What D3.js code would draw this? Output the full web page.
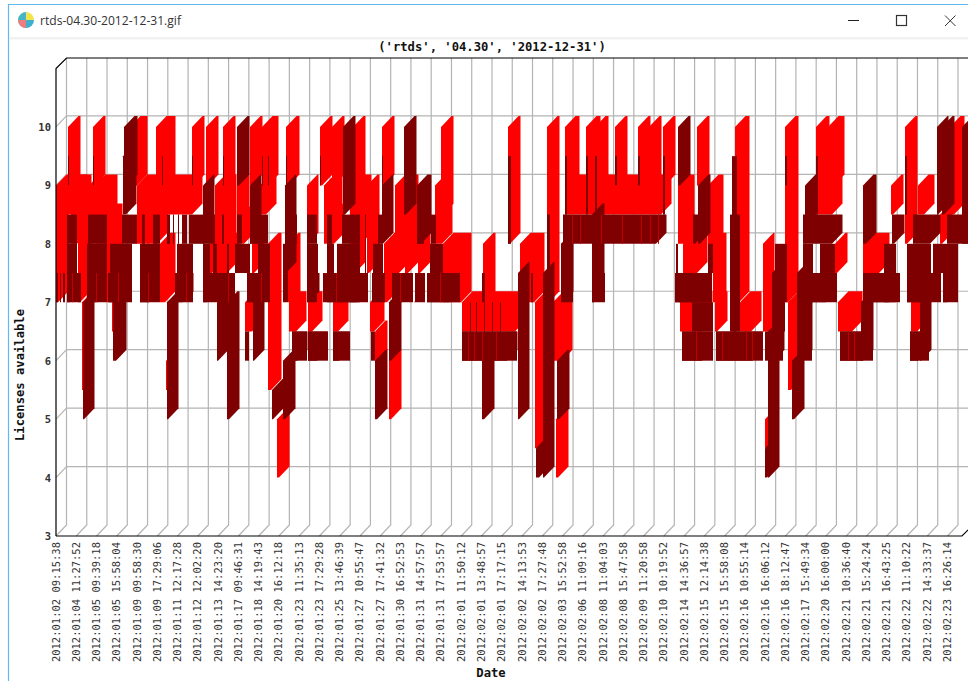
<!DOCTYPE html>
<html><head><meta charset="utf-8">
<script src="https://cdn.jsdelivr.net/npm/d3@7"></script>
<style>html,body{margin:0;padding:0;background:#fff;overflow:hidden}svg{display:block}</style>
</head><body><svg id="c" width="968" height="681"></svg>
<script>
const windowTitle = "rtds-04.30-2012-12-31.gif";
const chartTitle = "('rtds', '04.30', '2012-12-31')";
const xTitle = "Date";
const yTitle = "Licenses available";
const yTicks = [3,4,5,6,7,8,9,10];
const tickLabels = ["2012:01:02 09:15:38","2012:01:04 11:27:52","2012:01:05 09:39:18","2012:01:05 15:58:04","2012:01:09 09:58:30","2012:01:09 17:29:06","2012:01:11 12:17:28","2012:01:12 12:02:20","2012:01:13 14:23:20","2012:01:17 09:46:31","2012:01:18 14:19:43","2012:01:20 16:12:18","2012:01:23 11:35:13","2012:01:23 17:29:28","2012:01:25 13:46:39","2012:01:27 10:55:47","2012:01:27 17:41:32","2012:01:30 16:52:53","2012:01:31 14:57:57","2012:01:31 17:53:57","2012:02:01 11:50:12","2012:02:01 13:48:57","2012:02:01 17:17:15","2012:02:02 14:13:53","2012:02:02 17:27:48","2012:02:03 15:52:58","2012:02:06 11:09:16","2012:02:08 11:04:03","2012:02:08 15:47:58","2012:02:09 11:20:58","2012:02:10 10:19:52","2012:02:14 14:36:57","2012:02:15 12:14:38","2012:02:15 15:58:08","2012:02:16 10:55:14","2012:02:16 16:06:12","2012:02:16 18:12:47","2012:02:17 15:49:34","2012:02:20 16:00:00","2012:02:21 10:36:40","2012:02:21 15:24:24","2012:02:21 16:43:25","2012:02:22 11:10:22","2012:02:22 14:33:37","2012:02:23 16:26:14"];

// all spans: [first sample, last sample, high value, low value]
// bright bars, drawn first
const redBars = [
 [12,13,10,9],[37,38,10,9],[74,80,10,9],[100,108,10,9],[136,137,10,9],[150,151,10,9],[167,168,10,9],[194,195,10,9],[206,211,10,9],[230,232,10,9],[264,265,10,9],[276,277,10,9],[297,298,10,9],
 [326,327,10,9],[385,386,10,8.5],[452,453,10,8],[491,492,10,7],[509,512,10,9],[530,533,10,9],[539,541,10,9],[559,560,10,9],[582,583,10,9],[593,594,10,9],[607,608,10,9],[641,642,10,9],[679,682,10,7],[729,731,10,7],[760,762,10,9],[772,777,10,9],[849,850,10,8],[894,897,10,8.5],
 [0,1,9,7],[15,20,9,8],[33,36,9,8],[39,50,9,8],[12,24,9,8.5],[81,135,9,8.5],[159,169,9,8],[181,182,9,8],[204,209,9,8.5],[251,251,9,8],[268,275,9,8],[299,304,9,8],
 [294,298,9,7.5],[311,312,9,7.5],[339,342,9,7.5],[349,351,9,7.5],[379,385,9,8],[509,604,9,8.5],[622,627,9,8],[652,656,9,7.5],[760,775,9,8.5],[835,836,9,8.5],[862,867,9,8.5],
 [22,23,8.5,7],[51,55,8.5,7],[81,92,8.5,8],[92,100,8.5,8],[186,187,8.5,8],[276,277,8.5,8],[884,885,8.5,8],
 [104,108,8,7],[154,155,8,7.5],[161,170,8,7.5],[196,197,8,7.5],[212,214,8,5.5],[232,233,8,7],
 [328,330,8,7],[362,363,8,7.5],[387,404,8,7],[427,428,8,7],[464,477,8,7],[627,640,8,7.5],[657,659,8,7],[707,707,8,6.5],[779,780,8,7.5],[807,822,8,7.5],
 [26,26,7,5.5],[56,57,7,6.5],[110,110,6,5.5],[171,171,6,5.5],[189,195,7,6.5],[221,222,5,4],[233,239,7,6.5],[252,255,7,6.5],[277,281,7,6.5],
 [314,317,7,6.5],[319,320,6.5,6],[333,334,6,5],[406,450,7,6.5],[451,458,7,6.5],[479,480,7,4.5],[497,505,7,6],[500,501,5,4],
 [624,645,7,6.5],[659,660,7,6.5],[684,694,7,6.5],[707,713,7,6.5],[732,734,7,5.5],[782,795,7,6.5],[855,860,7,6.5],[709,710,5,4.5]
];
// dark bands with a flat top and a slanted lower right end
const darkBlocks = [
 [507,599,8.5,8],[637,638,8.5,8],[747,775,8.5,8],[836,837,8.5,8],[857,873,8.5,8],[891,912,8.5,8],
 [11,13,7.5,7],[31,39,7.5,7],[53,64,7.5,7],[84,92,7.5,7],[121,126,7.5,7],[147,150,7.5,7],[161,167,7.5,7],[191,202,7.5,7],[251,252,7.5,7],[271,300,7.5,7],
 [316,317,7.5,7],[336,345,7.5,7],[359,357,7.5,7],[371,392,7.5,7],[619,644,7.5,7],[747,769,7.5,7],[807,832,7.5,7],[851,873,7.5,7],[887,890,7.5,7],
 [236,240,6.5,6],[252,260,6.5,6],[277,282,6.5,6],[406,450,6.5,6],[626,645,6.5,6],[660,695,6.5,6],[784,805,6.5,6],[854,861,6.5,6]
];
// dark columns with a slanted top and bottom
const darkColumns = [
 [68,70,10,9],[181,182,10,9],[287,288,10,8.5],[348,349,10,8.5],[622,623,10,9],[881,881,10,8.5],[886,887,10,8.5],[906,912,10,8],
 [67,69,9.5,8.5],[147,147,9,8],[194,194,9,8],[229,229,9,7.5],[326,326,9,8],[361,364,9,8],[642,643,9,8],[749,749,9,8],[807,809,9,8],
 [27,27,7,5],[57,59,7,6],[111,111,7,5],[161,161,7,6],[171,172,7,5],[197,197,7,6],[227,228,6,5],[216,216,5.5,5],
 [319,320,6,5],[333,334,7,6],[426,427,6,5],[462,462,7.5,5],[480,482,4.5,4],[487,487,7.5,4],[501,502,6,5],[505,506,8,7],[536,537,8.5,7],
 [805,806,7,6],[864,864,7,6],[716,717,7.5,6],[741,745,7.5,6],[736,737,6,5],[712,712,6.5,4],[709,710,4.5,4]
];
// dark stripes flush with the front plane, no depth
const darkStripes = [
 [12,13,9.5,9],[37,38,9.5,9],[106,107,9.5,9],[136,137,9.5,9],[167,168,9.5,9],[206,207,9.5,9],[212,213,9.5,9],[230,231,9.5,9],[264,265,9.5,9],[287,288,9.5,9],[326,327,9.5,9],[452,455,9.5,8],[491,494,8.5,7],[509,511,9.5,8.5],[530,532,9.5,8.5],[539,541,9.5,8.5],[559,561,9.5,9],[582,584,9.5,9],[607,609,9.5,8.5],[676,681,9.5,6.5],[729,731,9.5,9],[760,762,9.5,8.5],[849,851,9.5,8.5],
 [11,21,8.5,8],[32,51,8.5,8],[66,81,8.5,8],[86,89,8.5,8],[97,104,8.5,8],[111,114,8.5,8],[117,118,8.5,8],[122,123,8.5,8],[126,131,8.5,8],[133,159,8.5,8],[166,168,8.5,8],[181,186,8.5,8],[194,212,8.5,8],[229,241,8.5,8],[251,261,8.5,8],[271,276,8.5,8],[286,304,8.5,8],
 [297,298,8.5,7.5],[309,310,8.5,7.5],[322,326,8.5,8],[375,380,8.5,8],[361,368,8.5,8],
 [11,21,8,7.5],[31,51,8,7.5],[54,76,8,7.5],[84,104,8,7.5],[121,137,8,7.5],[147,154,8,7.5],[157,161,8,7.5],[171,173,8,7.5],[179,194,8,7.5],[202,214,8,7.5],[227,232,8,7.5],[251,262,8,7.5],[271,278,8,7.5],[281,304,8,7.5],
 [317,327,8,7.5],[374,387,8,7.5],[652,657,8,7.5],[719,731,8,7],[747,757,8,7],[764,779,8,7.5],[851,861,8,7.5],[861,875,8,7.5],[877,887,8,7.5],[887,902,8,7.5],[828,840,8,7],
 [1,2,7.5,7],[4,5,7.5,7],[7,9,7.5,7],[426,429,7.5,7],[464,472,7.5,7],[475,477,7.5,7],
 [11,25,7.5,7],[31,51,7.5,7],[52,76,7.5,7],[84,104,7.5,7],[119,137,7.5,7],[147,179,7.5,7],[191,214,7.5,7],[227,232,7.5,7],[251,261,7.5,7],[267,304,7.5,7],
 [294,312,7.5,7],[316,329,7.5,7],[336,357,7.5,7],[359,369,7.5,7],[371,404,7.5,7],[487,497,7.5,7],[505,517,7.5,7],[536,549,7.5,7],[619,656,7.5,7],[674,682,7.5,7],[747,781,7.5,7],[807,844,7.5,7],[851,885,7.5,7],[887,902,7.5,7],
 [236,251,6.5,6],[252,272,6.5,6],[277,294,6.5,6],[406,461,6.5,6],[626,657,6.5,6],[660,682,6.5,6],[682,707,6.5,6],[709,727,6.5,6],[741,756,6.5,6],[784,817,6.5,6],[854,873,6.5,6],
 [315,319,6.5,6],[189,193,6.5,6],[636,647,7,6.5],[647,657,7,6.5],[674,684,8.5,6.5],[716,729,7,6.5],
 [414,415,7,6.5],[420,421,7,6.5],[428,429,7,6.5],[436,437,7,6.5],[444,445,7,6.5],[620,622,8,7.5]
];
// bright slits left open inside the dark bands
const redSlits = [
 [16,17,7.5,7],[40,41,7.5,7],[62,63,7.5,7],[92,93,7.5,7],[130,131,7.5,7],[172,173,7.5,7],[205,206,7.5,7],[280,281,7.5,7],[344,345,7.5,7],[384,385,7.5,7],
 [412,413,6.5,6],[418,419,6.5,6],[426,427,6.5,6],[440,441,6.5,6],[640,641,6.5,6],[666,667,6.5,6],[690,691,6.5,6],[696,697,6.5,6],[792,793,6.5,6],[798,799,6.5,6],
 [516,517,8.5,8],[524,525,8.5,8],[545,546,8.5,8],[566,567,8.5,8],[585,586,8.5,8],[594,595,8.5,8],[602,603,8.5,8]
];

const W=968,H=681, dx=10.5, dy=11;
const svg=d3.select("#c");
const x=d3.scaleLinear().domain([0,912]).range([56,968]);
const y=d3.scaleLinear().domain([3,11]).range([536,68.5]);
const xTick=d3.scalePoint().domain(tickLabels).range([56,947.5]);

// window frame
svg.append("line").attr("x1",8.5).attr("x2",8.5).attr("y1",4).attr("y2",H).attr("stroke","#62b9ee").attr("stroke-width",1.2);
svg.append("line").attr("x1",8).attr("x2",W).attr("y1",4.5).attr("y2",4.5).attr("stroke","#62b9ee").attr("stroke-width",1.2);
svg.append("rect").attr("x",9).attr("y",37).attr("width",W).attr("height",2.5).attr("fill","#f1f1f1");
const arc=d3.arc().innerRadius(0).outerRadius(8);
const icon=svg.append("g").attr("transform","translate(26,20)");
[["#44b6c4",-Math.PI,0.05],["#f2e34a",0.05,Math.PI/2],["#3fb0cc",Math.PI/2,Math.PI],["#ee7d80",Math.PI,Math.PI*1.5]].forEach(a=>
  icon.append("path").attr("d",arc({startAngle:a[1],endAngle:a[2]})).attr("fill",a[0]));
svg.append("text").attr("x",40).attr("y",25).attr("font-family","Open Sans").attr("font-size",12).attr("fill","#333").attr("textLength",141).attr("lengthAdjust","spacingAndGlyphs").text(windowTitle);
svg.append("line").attr("x1",848).attr("x2",859).attr("y1",20.5).attr("y2",20.5).attr("stroke","#222");
svg.append("rect").attr("x",896.5).attr("y",15.5).attr("width",10).attr("height",10).attr("fill","none").attr("stroke","#333").attr("stroke-width",1.2);
svg.append("path").attr("d","M945,15.5L955.5,26M955.5,15.5L945,26").attr("stroke","#333").attr("fill","none");

// grid
const gridG=svg.append("g").attr("stroke","#b4b4b4").attr("stroke-width",1.2).attr("fill","none");
tickLabels.forEach(t=>{const px=xTick(t);
  gridG.append("path").attr("d",`M${px},536L${px+dx},525L${px+dx},58`);
});
yTicks.forEach(v=>{ if(v===3) return;
  gridG.append("path").attr("d",`M56,${y(v)}L${56+dx},${y(v)-dy}L968,${y(v)-dy}`);
});

const hex=(s0,s1,hi,lo)=>{
  const a=x(s0), b=x(s1+1), t=y(hi), u=y(lo);
  const p=d3.path();
  p.moveTo(a,t);p.lineTo(a+dx,t-dy);p.lineTo(b+dx,t-dy);p.lineTo(b+dx,u-dy);p.lineTo(b,u);p.lineTo(a,u);p.closePath();
  return p.toString();
};
const block=(s0,s1,hi,lo)=>{
  const a=x(s0), b=x(s1+1), t=y(hi), u=y(lo);
  const p=d3.path();
  p.moveTo(a,t);p.lineTo(b+dx,t);p.lineTo(b+dx,u-dy);p.lineTo(b,u);p.lineTo(a,u);p.closePath();
  return p.toString();
};
const RED="#ff0000", DARK="#7f0000";
const rects=(data,fill)=>svg.append("g").selectAll("rect").data(data).join("rect")
  .attr("x",d=>x(d[0])).attr("y",d=>y(d[2])).attr("width",d=>x(d[1])-x(d[0])).attr("height",d=>y(d[3])-y(d[2])).attr("fill",fill);
svg.append("g").selectAll("path").data(redBars).join("path").attr("d",d=>hex(...d)).attr("fill",RED);
svg.append("g").selectAll("path").data(darkBlocks).join("path").attr("d",d=>block(...d)).attr("fill",DARK);
rects(darkStripes,DARK);
svg.append("g").selectAll("path").data(darkColumns).join("path").attr("d",d=>hex(...d)).attr("fill",DARK);
rects(redSlits,"#c00000");

// axes frame
const axisG=svg.append("g").attr("stroke","#000").attr("fill","none");
axisG.append("path").attr("d",`M56,536L56,68.5L${56+dx},58L968,58`).attr("stroke-width",1.2);
axisG.append("path").attr("d",`M56,536L962,536L973,525`).attr("stroke-width",1.2);

const mono="DejaVu Sans Mono";
svg.append("g").selectAll("text").data(yTicks).join("text")
  .attr("x",51).attr("y",d=>y(d)+4).attr("text-anchor","end").attr("font-family",mono).attr("font-size",10.5).attr("font-weight","bold").attr("fill","#333").text(d=>d);
svg.append("g").selectAll("text").data(tickLabels).join("text")
  .attr("transform",d=>`translate(${xTick(d)+3.5},542) rotate(-90)`).attr("text-anchor","end")
  .attr("font-family",mono).attr("font-size",10.5).attr("fill","#333").text(d=>d);
svg.append("text").attr("x",492).attr("y",51).attr("text-anchor","middle").attr("font-family",mono).attr("font-weight","bold").attr("font-size",12.2).attr("fill","#111").text(chartTitle);
svg.append("text").attr("x",491).attr("y",677).attr("text-anchor","middle").attr("font-family",mono).attr("font-weight","bold").attr("font-size",12.2).attr("fill","#111").text(xTitle);
svg.append("text").attr("transform","translate(24,375) rotate(-90)").attr("text-anchor","middle").attr("font-family",mono).attr("font-weight","bold").attr("font-size",12.2).attr("fill","#111").text(yTitle);
</script></body></html>
